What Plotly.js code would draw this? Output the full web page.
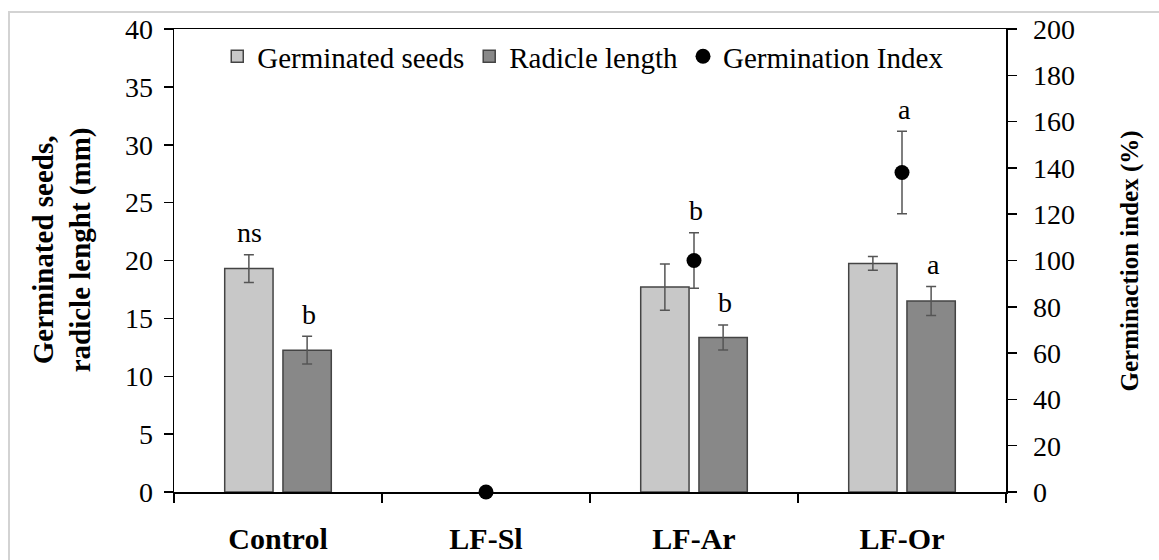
<!DOCTYPE html>
<html>
<head>
<meta charset="utf-8">
<script src="https://cdn.plot.ly/plotly-3.0.1.min.js"></script>
<style>
html,body{margin:0;padding:0;background:#fff;overflow:hidden;width:1159px;height:560px;}
#frame{position:absolute;left:8px;top:11px;width:1300px;height:700px;border-top:2px solid #d3d3d3;border-left:2px solid #d3d3d3;}
#chart{position:absolute;left:0;top:0;width:1159px;height:560px;}
</style>
</head>
<body>
<div id="frame"></div>
<div id="chart"></div>
<script>
// ---- data ----
const categories = ['Control', 'LF-Sl', 'LF-Ar', 'LF-Or'];
const germinatedSeeds = [19.3, null, 17.7, 19.75];
const germinatedSeedsErr = [1.2, null, 2.0, 0.6];
const germinatedSeedsSig = ['ns', '', '', ''];
const radicleLength = [12.25, null, 13.35, 16.5];
const radicleLengthErr = [1.2, null, 1.08, 1.25];
const radicleLengthSig = ['b', '', 'b', 'a'];
const germinationIndex = [null, 0, 100, 138];
const germinationIndexErr = [null, null, 12, 17.8];
const germinationIndexSig = ['', '', 'b', 'a'];

const FONT = 'Liberation Serif, Times New Roman, serif';
const errStyle = {type: 'data', visible: true, color: '#555555', thickness: 1.5, width: 5};

const traces = [
  {
    type: 'bar', name: 'Germinated seeds', x: categories, y: germinatedSeeds,
    error_y: Object.assign({array: germinatedSeedsErr}, errStyle),
    marker: {color: '#c8c8c8', line: {color: '#444444', width: 1.5}},
    yaxis: 'y'
  },
  {
    type: 'bar', name: 'Radicle length', x: categories, y: radicleLength,
    error_y: Object.assign({array: radicleLengthErr}, errStyle),
    marker: {color: '#888888', line: {color: '#444444', width: 1.5}},
    yaxis: 'y'
  },
  {
    type: 'scatter', mode: 'markers', name: 'Germination Index', x: categories, y: germinationIndex,
    error_y: Object.assign({array: germinationIndexErr}, errStyle),
    marker: {color: '#000000', size: 15},
    yaxis: 'y2', cliponaxis: false
  }
];

// significance letters, placed just above each error bar
const annotations = [];
function addSig(sig, vals, errs, shift, yref) {
  sig.forEach((s, i) => {
    if (!s) return;
    annotations.push({
      x: categories[i], y: vals[i] + (errs[i] || 0), xref: 'x', yref: yref,
      text: s, showarrow: false, xshift: shift, yshift: 22, yanchor: 'middle',
      font: {family: FONT, size: 28, color: '#000'}
    });
  });
}
addSig(germinatedSeedsSig, germinatedSeeds, germinatedSeedsErr, -29, 'y');
addSig(radicleLengthSig, radicleLength, radicleLengthErr, 31, 'y');
addSig(germinationIndexSig, germinationIndex, germinationIndexErr, 2, 'y2');

annotations.push({
  xref: 'paper', yref: 'paper', x: -0.1346, y: 0.522, textangle: -90, showarrow: false,
  text: '<b>Germinated seeds,</b><br><b>radicle lenght (mm)</b>', xanchor: 'center', yanchor: 'middle',
  font: {family: FONT, size: 29, color: '#000'}
});
annotations.push({
  xref: 'paper', yref: 'paper', x: 1.149, y: 0.5, textangle: -90, showarrow: false,
  text: '<b>Germinaction index (%)</b>', xanchor: 'center', yanchor: 'middle',
  font: {family: FONT, size: 25, color: '#000'}
});

const layout = {
  width: 1159, height: 560,
  margin: {l: 174, r: 153, t: 29, b: 68, pad: 0},
  paper_bgcolor: 'rgba(0,0,0,0)', plot_bgcolor: '#ffffff',
  barmode: 'group', bargap: 0.44, bargroupgap: 0.17,
  font: {family: FONT, size: 28, color: '#000'},
  showlegend: true,
  legend: {
    orientation: 'h', x: 0.052, y: 0.996, xanchor: 'left', yanchor: 'top',
    bgcolor: 'rgba(0,0,0,0)', font: {family: FONT, size: 29, color: '#000'},
    traceorder: 'normal'
  },
  xaxis: {
    type: 'category', range: [-0.5, 3.5], showline: true, linecolor: '#000', linewidth: 1.5,
    mirror: true, ticks: 'outside', tickson: 'boundaries', ticklen: 9, tickcolor: '#000', tickwidth: 1.5,
    showgrid: false, zeroline: false, ticklabelstandoff: 19,
    tickfont: {family: FONT, size: 30, color: '#000', weight: 'bold'}
  },
  yaxis: {
    range: [0, 40], dtick: 5, showline: true, linecolor: '#000', linewidth: 1.5,
    ticks: 'outside', ticklen: 9, tickcolor: '#000', tickwidth: 1.5,
    showgrid: false, zeroline: false, ticklabelstandoff: 5,
    tickfont: {family: FONT, size: 28, color: '#000'}
  },
  yaxis2: {
    range: [0, 200], dtick: 20, overlaying: 'y', side: 'right', showline: true, linecolor: '#000', linewidth: 1.5,
    ticks: 'outside', ticklen: 9, tickcolor: '#000', tickwidth: 1.5,
    showgrid: false, zeroline: false, ticklabelstandoff: 11,
    tickfont: {family: FONT, size: 28, color: '#000'}
  },
  annotations: annotations
};

Plotly.newPlot('chart', traces, layout, {displayModeBar: false, staticPlot: true});
</script>
</body>
</html>
